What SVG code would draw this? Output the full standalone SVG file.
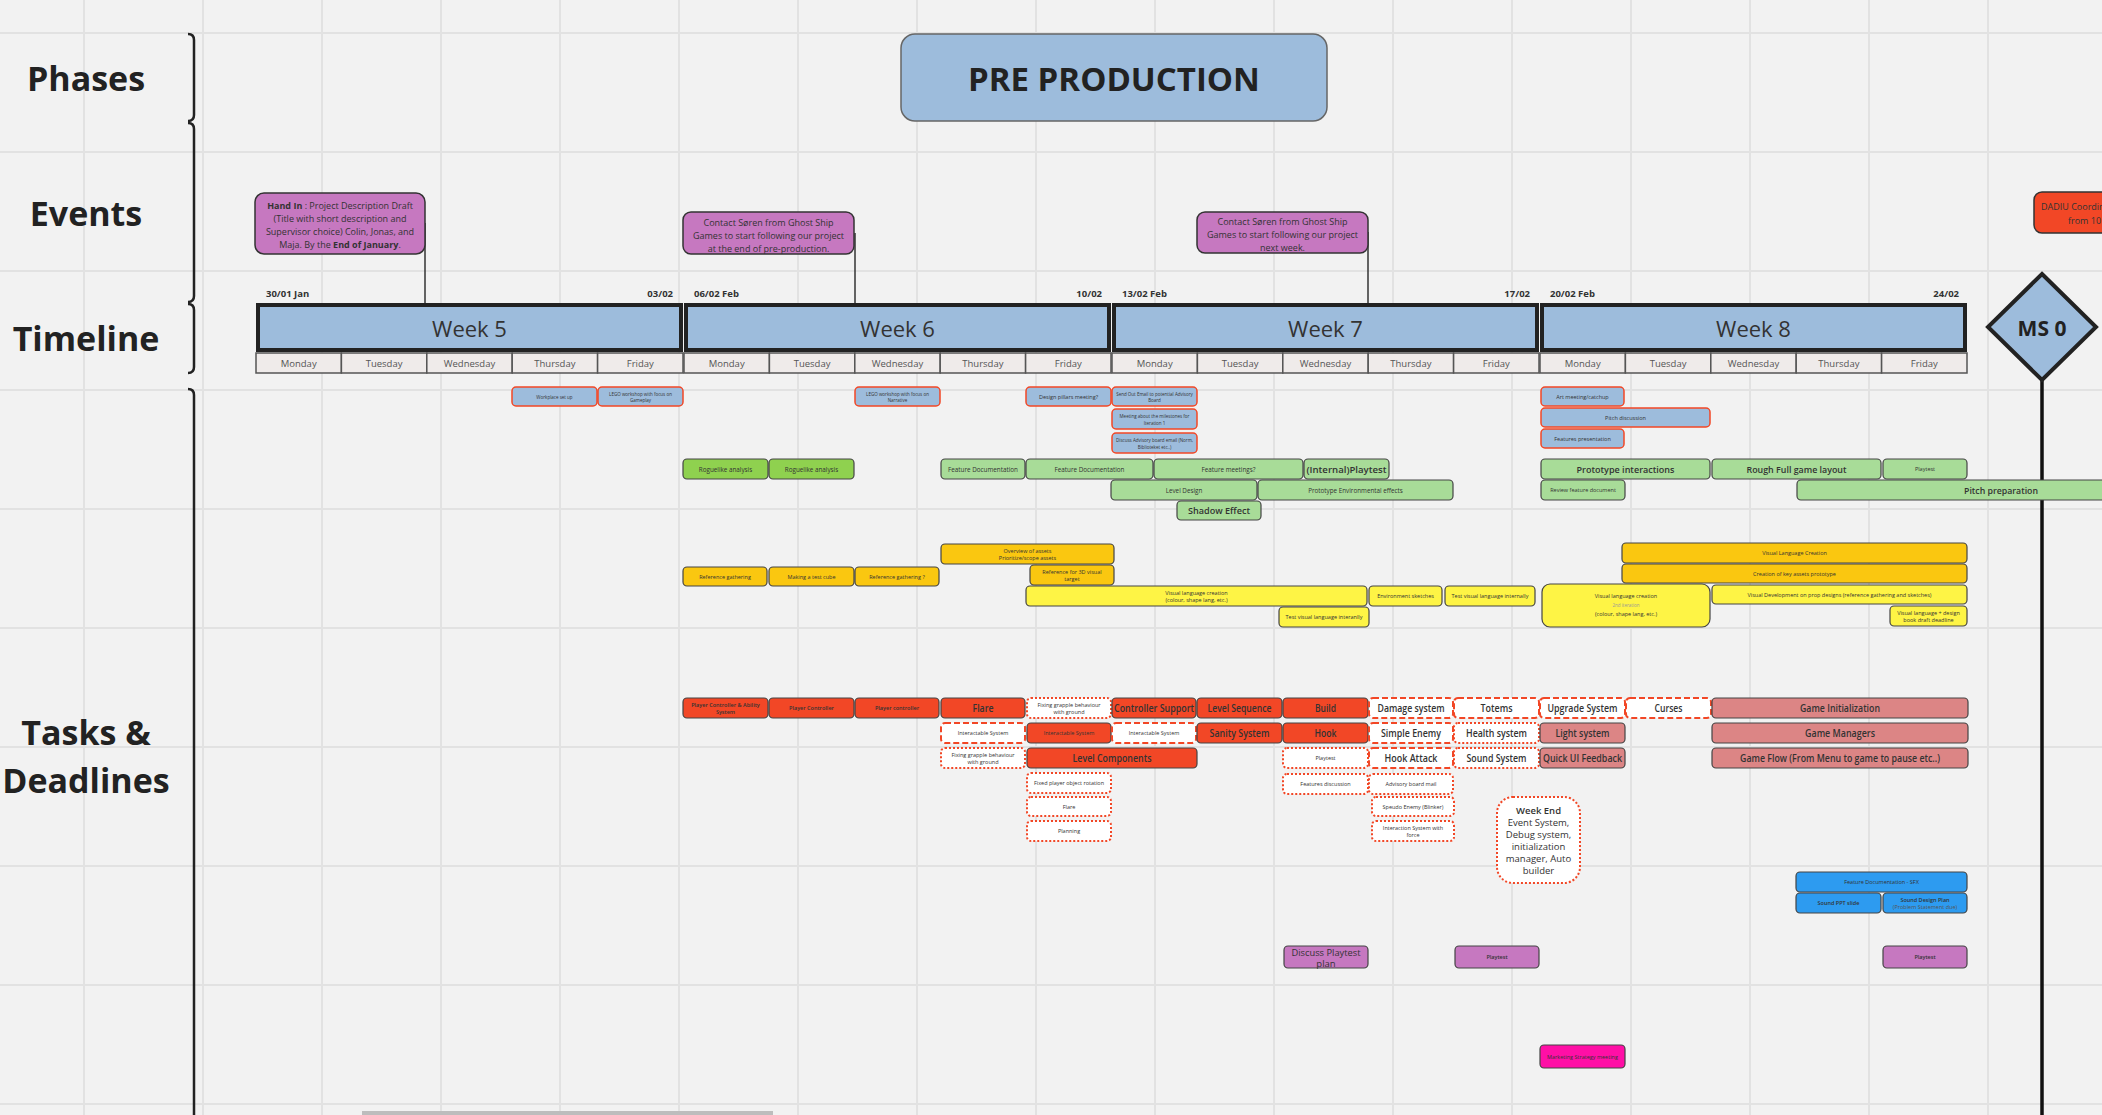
<svg xmlns="http://www.w3.org/2000/svg" width="2102" height="1115" viewBox="0 0 2102 1115">
<defs>
<pattern id="grid" x="202" y="32" width="119" height="119" patternUnits="userSpaceOnUse">
<path d="M0 1H119M1 0V119" stroke="#e2e2e2" stroke-width="2" fill="none"/>
</pattern>
</defs>
<style>
text{font-family:'Open Sans','Liberation Sans',sans-serif;fill:#333;text-anchor:middle;dominant-baseline:central}
.hd{font-size:34px;font-weight:700;fill:#222}
.wk{font-size:22px;fill:#333}
.dt{font-size:9.5px;font-weight:700;text-anchor:start}
.dy{font-size:9.5px;fill:#555}
.ev{font-size:9px}
.s4{font-size:4.5px}
.s5{font-size:5.5px}
.s6{font-size:6.3px}
.s9{font-size:9.5px;font-weight:600}
.L{font-size:10.5px;font-weight:600}
.we{font-size:9.5px}
.bx{stroke:#444;stroke-width:1.2}
.mt{fill:#9dbcdc;stroke:#f24726;stroke-width:1.5}
.gd{fill:#8fd14f}.gl{fill:#a8dc98}.yd{fill:#fac710}.yb{fill:#fef445}.rd{fill:#f24726}.pk{fill:#dc8585}.pu{fill:#c678c0}.bl{fill:#2d9bf0}.mg{fill:#ff0fa6}
.dash{fill:#fff;stroke:#f24726;stroke-width:2;stroke-dasharray:6 3}
.dot{fill:#fff;stroke:#f24726;stroke-width:2;stroke-dasharray:2 2}
.evb{fill:#c678c0;stroke:#333;stroke-width:1.5}
.wkb{fill:#9dbcdc;stroke:#222;stroke-width:4}
.day{fill:#efebea;stroke:#555;stroke-width:1.5}
.ax{fill:none;stroke:#222;stroke-width:2.5}
.cn{fill:none;stroke:#333;stroke-width:1.5}
</style>
<rect width="2102" height="1115" fill="#f2f2f2"/>
<rect width="2102" height="1115" fill="url(#grid)"/>

<g id="axis">
<path class="ax" d="M188 34Q194 34 194 40V115Q194 121 188 121"/>
<path class="ax" d="M188 123Q194 123 194 129V296Q194 302 188 302"/>
<path class="ax" d="M188 304Q194 304 194 310V367Q194 373 188 373"/>
<path class="ax" d="M188 389Q194 389 194 395V1115"/>
</g>

<g id="row-labels">
<text class="hd" x="86" y="78">Phases</text>
<text class="hd" x="86" y="213">Events</text>
<text class="hd" x="86" y="338">Timeline</text>
<text class="hd" x="86" y="732">Tasks &amp;</text>
<text class="hd" x="86" y="780">Deadlines</text>
</g>

<g id="phase-preproduction">
<rect x="901" y="34" width="426" height="87" rx="14" fill="#9dbcdc" stroke="#666" stroke-width="1.5"/>
<text x="1114" y="78" style="font-size:33px;font-weight:700;fill:#222">PRE PRODUCTION</text>
</g>

<g id="connectors">
<path class="cn" d="M425 223V304"/>
<path class="cn" d="M855 233V304"/>
<path class="cn" d="M1368 232V304"/>
<path d="M2042 380V1115" stroke="#111" stroke-width="3.5" fill="none"/>
</g>

<g id="event-handin">
<rect class="evb" x="255" y="193" width="170" height="61" rx="9"/>
<text class="ev" x="340" y="205"><tspan font-weight="700">Hand In</tspan> : Project Description Draft</text>
<text class="ev" x="340" y="218">(Title with short description and</text>
<text class="ev" x="340" y="231">Supervisor choice) Colin, Jonas, and</text>
<text class="ev" x="340" y="244">Maja. By the <tspan font-weight="700">End of January</tspan>.</text>
</g>
<g id="event-soren1">
<rect class="evb" x="683" y="212" width="171" height="42" rx="8"/>
<text class="ev" x="768.5" y="222">Contact Søren from Ghost Ship</text>
<text class="ev" x="768.5" y="235">Games to start following our project</text>
<text class="ev" x="768.5" y="248">at the end of pre-production.</text>
</g>
<g id="event-soren2">
<rect class="evb" x="1197" y="212" width="171" height="41" rx="8"/>
<text class="ev" x="1282.5" y="221">Contact Søren from Ghost Ship</text>
<text class="ev" x="1282.5" y="234">Games to start following our project</text>
<text class="ev" x="1282.5" y="247">next week.</text>
</g>
<g id="event-dadiu">
<rect x="2034" y="192" width="200" height="41" rx="8" fill="#f24726" stroke="#333" stroke-width="1.5"/>
<text class="ev" x="2041" y="206" style="text-anchor:start">DADIU Coordination</text>
<text class="ev" x="2068" y="220" style="text-anchor:start">from 10</text>
</g>

<g id="dates">
<text class="dt" x="266" y="293">30/01 Jan</text>
<text class="dt" x="673" y="293" style="text-anchor:end">03/02</text>
<text class="dt" x="694" y="293">06/02 Feb</text>
<text class="dt" x="1102" y="293" style="text-anchor:end">10/02</text>
<text class="dt" x="1122" y="293">13/02 Feb</text>
<text class="dt" x="1530" y="293" style="text-anchor:end">17/02</text>
<text class="dt" x="1550" y="293">20/02 Feb</text>
<text class="dt" x="1959" y="293" style="text-anchor:end">24/02</text>
</g>

<g id="week5">
<rect class="wkb" x="258" y="305" width="423" height="45"/>
<text class="wk" x="469.5" y="328">Week 5</text>
<rect class="day" x="256" y="353" width="85.4" height="20"/><text class="dy" x="298.7" y="363">Monday</text>
<rect class="day" x="341.4" y="353" width="85.4" height="20"/><text class="dy" x="384.1" y="363">Tuesday</text>
<rect class="day" x="426.8" y="353" width="85.4" height="20"/><text class="dy" x="469.5" y="363">Wednesday</text>
<rect class="day" x="512.2" y="353" width="85.4" height="20"/><text class="dy" x="554.9" y="363">Thursday</text>
<rect class="day" x="597.6" y="353" width="85.4" height="20"/><text class="dy" x="640.3" y="363">Friday</text>
</g>
<g id="week6">
<rect class="wkb" x="686" y="305" width="423" height="45"/>
<text class="wk" x="897.5" y="328">Week 6</text>
<rect class="day" x="684" y="353" width="85.4" height="20"/><text class="dy" x="726.7" y="363">Monday</text>
<rect class="day" x="769.4" y="353" width="85.4" height="20"/><text class="dy" x="812.1" y="363">Tuesday</text>
<rect class="day" x="854.8" y="353" width="85.4" height="20"/><text class="dy" x="897.5" y="363">Wednesday</text>
<rect class="day" x="940.2" y="353" width="85.4" height="20"/><text class="dy" x="982.9" y="363">Thursday</text>
<rect class="day" x="1025.6" y="353" width="85.4" height="20"/><text class="dy" x="1068.3" y="363">Friday</text>
</g>
<g id="week7">
<rect class="wkb" x="1114" y="305" width="423" height="45"/>
<text class="wk" x="1325.5" y="328">Week 7</text>
<rect class="day" x="1112" y="353" width="85.4" height="20"/><text class="dy" x="1154.7" y="363">Monday</text>
<rect class="day" x="1197.4" y="353" width="85.4" height="20"/><text class="dy" x="1240.1" y="363">Tuesday</text>
<rect class="day" x="1282.8" y="353" width="85.4" height="20"/><text class="dy" x="1325.5" y="363">Wednesday</text>
<rect class="day" x="1368.2" y="353" width="85.4" height="20"/><text class="dy" x="1410.9" y="363">Thursday</text>
<rect class="day" x="1453.6" y="353" width="85.4" height="20"/><text class="dy" x="1496.3" y="363">Friday</text>
</g>
<g id="week8">
<rect class="wkb" x="1542" y="305" width="423" height="45"/>
<text class="wk" x="1753.5" y="328">Week 8</text>
<rect class="day" x="1540" y="353" width="85.4" height="20"/><text class="dy" x="1582.7" y="363">Monday</text>
<rect class="day" x="1625.4" y="353" width="85.4" height="20"/><text class="dy" x="1668.1" y="363">Tuesday</text>
<rect class="day" x="1710.8" y="353" width="85.4" height="20"/><text class="dy" x="1753.5" y="363">Wednesday</text>
<rect class="day" x="1796.2" y="353" width="85.4" height="20"/><text class="dy" x="1838.9" y="363">Thursday</text>
<rect class="day" x="1881.6" y="353" width="85.4" height="20"/><text class="dy" x="1924.3" y="363">Friday</text>
</g>

<g id="ms0">
<path d="M2042 274L2096 327L2042 380L1988 327Z" fill="#9dbcdc" stroke="#222" stroke-width="4" stroke-linejoin="miter"/>
<text x="2042" y="328" style="font-size:21px;font-weight:700;fill:#222">MS 0</text>
</g>

<!-- meetings -->
<g id="t-workplace"><rect class="mt" x="512" y="387" width="85" height="19" rx="4"/><text class="s4" x="554.5" y="396.5">Workplace set up</text></g>
<g id="t-lego-gameplay"><rect class="mt" x="598" y="387" width="85" height="19" rx="4"/><text class="s4" x="640.5" y="393.5">LEGO workshop with focus on</text><text class="s4" x="640.5" y="400">Gameplay</text></g>
<g id="t-lego-narrative"><rect class="mt" x="855" y="387" width="85" height="19" rx="4"/><text class="s4" x="897.5" y="393.5">LEGO workshop with focus on</text><text class="s4" x="897.5" y="400">Narrative</text></g>
<g id="t-design-pillars"><rect class="mt" x="1026" y="387" width="85" height="19" rx="4"/><text class="s5" x="1068.5" y="396.5">Design pillars meeting?</text></g>
<g id="t-send-email"><rect class="mt" x="1112" y="387" width="85" height="19" rx="4"/><text class="s4" x="1154.5" y="393.5">Send Out Email to potential Advisory</text><text class="s4" x="1154.5" y="400">Board</text></g>
<g id="t-meeting-milestones"><rect class="mt" x="1112" y="409" width="85" height="20" rx="4"/><text class="s4" x="1154.5" y="415.5">Meeting about the milestones for</text><text class="s4" x="1154.5" y="422.5">Iteration 1</text></g>
<g id="t-discuss-advisory"><rect class="mt" x="1112" y="433" width="85" height="20" rx="4"/><text class="s4" x="1154.5" y="439.5">Discuss Advisory board email (Norm,</text><text class="s4" x="1154.5" y="446.5">Biblioteket etc..)</text></g>
<g id="t-art-meeting"><rect class="mt" x="1541" y="387" width="83" height="19" rx="4"/><text class="s5" x="1582.5" y="396.5">Art meeting/catchup</text></g>
<g id="t-pitch-discussion"><rect class="mt" x="1541" y="408" width="169" height="19" rx="4"/><text class="s5" x="1625.5" y="417.5">Pitch discussion</text></g>
<g id="t-features-presentation"><rect class="mt" x="1541" y="429" width="83" height="19" rx="4"/><text class="s5" x="1582.5" y="438.5">Features presentation</text></g>

<!-- green -->
<g id="t-roguelike1"><rect class="bx gd" x="683" y="459" width="85" height="20" rx="4"/><text class="s6" x="725.5" y="469">Roguelike analysis</text></g>
<g id="t-roguelike2"><rect class="bx gd" x="769" y="459" width="85" height="20" rx="4"/><text class="s6" x="811.5" y="469">Roguelike analysis</text></g>
<g id="t-featdoc1"><rect class="bx gl" x="941" y="459" width="84" height="20" rx="4"/><text class="s6" x="983" y="469">Feature Documentation</text></g>
<g id="t-featdoc2"><rect class="bx gl" x="1026" y="459" width="127" height="20" rx="4"/><text class="s6" x="1089.5" y="469">Feature Documentation</text></g>
<g id="t-featmeet"><rect class="bx gl" x="1154" y="459" width="149" height="20" rx="4"/><text class="s6" x="1228.5" y="469">Feature meetings?</text></g>
<g id="t-internal-playtest"><rect class="bx gl" x="1304" y="459" width="85" height="20" rx="4"/><text class="s9" x="1346.5" y="469" textLength="80" lengthAdjust="spacingAndGlyphs">(Internal)Playtest</text></g>
<g id="t-level-design"><rect class="bx gl" x="1111" y="480" width="146" height="20" rx="4"/><text class="s6" x="1184" y="490">Level Design</text></g>
<g id="t-proto-env"><rect class="bx gl" x="1258" y="480" width="195" height="20" rx="4"/><text class="s6" x="1355.5" y="490">Prototype Environmental effects</text></g>
<g id="t-shadow"><rect class="bx gl" x="1177" y="501" width="84" height="19" rx="4"/><text class="s9" x="1219" y="510.5" textLength="62" lengthAdjust="spacingAndGlyphs">Shadow Effect</text></g>
<g id="t-proto-interactions"><rect class="bx gl" x="1541" y="459" width="169" height="20" rx="4"/><text class="s9" x="1625.5" y="469" textLength="98" lengthAdjust="spacingAndGlyphs">Prototype interactions</text></g>
<g id="t-rough-layout"><rect class="bx gl" x="1712" y="459" width="169" height="20" rx="4"/><text class="s9" x="1796.5" y="469" textLength="100" lengthAdjust="spacingAndGlyphs">Rough Full game layout</text></g>
<g id="t-playtest-green"><rect class="bx gl" x="1883" y="459" width="84" height="20" rx="4"/><text class="s5" x="1925" y="469">Playtest</text></g>
<g id="t-review-feature"><rect class="bx gl" x="1541" y="480" width="84" height="20" rx="4"/><text class="s5" x="1583" y="490">Review feature document</text></g>
<g id="t-pitch-prep"><rect class="bx gl" x="1797" y="480" width="410" height="20" rx="4"/><text class="s9" x="2001" y="490" textLength="74" lengthAdjust="spacingAndGlyphs">Pitch preparation</text></g>

<!-- yellow -->
<g id="t-overview"><rect class="bx yd" x="941" y="544" width="173" height="20" rx="4"/><text class="s5" x="1027.5" y="550.5">Overview of assets</text><text class="s5" x="1027.5" y="557.5">Prioritize/scope assets</text></g>
<g id="t-ref3d"><rect class="bx yd" x="1030" y="565" width="84" height="20" rx="4"/><text class="s5" x="1072" y="571.5">Reference for 3D visual</text><text class="s5" x="1072" y="578.5">target</text></g>
<g id="t-refgather1"><rect class="bx yd" x="683" y="567" width="84" height="19" rx="4"/><text class="s5" x="725" y="576.5">Reference gathering</text></g>
<g id="t-testcube"><rect class="bx yd" x="769" y="567" width="85" height="19" rx="4"/><text class="s5" x="811.5" y="576.5">Making a test cube</text></g>
<g id="t-refgather2"><rect class="bx yd" x="855" y="567" width="84" height="19" rx="4"/><text class="s5" x="897" y="576.5">Reference gathering ?</text></g>
<g id="t-vislang1"><rect class="bx yb" x="1026" y="586" width="341" height="20" rx="4"/><text class="s5" x="1196.5" y="592.5">Visual language creation</text><text class="s5" x="1196.5" y="599.5">(colour, shape lang, etc.)</text></g>
<g id="t-testvis-interanlly"><rect class="bx yb" x="1279" y="607" width="90" height="20" rx="4"/><text class="s5" x="1324" y="617">Test visual language interanlly</text></g>
<g id="t-env-sketches"><rect class="bx yb" x="1369" y="586" width="73" height="20" rx="4"/><text class="s5" x="1405.5" y="596">Environment sketches</text></g>
<g id="t-testvis-internally"><rect class="bx yb" x="1445" y="586" width="90" height="20" rx="4"/><text class="s5" x="1490" y="596">Test visual language internally</text></g>
<g id="t-vislang2"><rect class="bx yb" x="1542" y="584" width="168" height="43" rx="8"/><text class="s5" x="1626" y="596">Visual language creation</text><text class="s4" x="1626" y="605" style="fill:#999">2nd iteration</text><text class="s5" x="1626" y="614">(colour, shape lang, etc.)</text></g>
<g id="t-vislang-creation"><rect class="bx yd" x="1622" y="543" width="345" height="20" rx="4"/><text class="s5" x="1794.5" y="553">Visual Language Creation</text></g>
<g id="t-key-assets"><rect class="bx yd" x="1622" y="564" width="345" height="19" rx="4"/><text class="s5" x="1794.5" y="573.5">Creation of key assets prototype</text></g>
<g id="t-visdev"><rect class="bx yb" x="1712" y="585" width="255" height="19" rx="4"/><text class="s5" x="1839.5" y="594.5">Visual Development on prop designs (reference gathering and sketches)</text></g>
<g id="t-vislang-deadline"><rect class="bx yb" x="1890" y="606" width="77" height="20" rx="4"/><text class="s5" x="1928.5" y="612.5">Visual language + design</text><text class="s5" x="1928.5" y="619.5">book draft deadline</text></g>

<!-- programming row 1 -->
<g id="t-pc-ability"><rect class="bx rd" x="683" y="698" width="85" height="20" rx="4"/><text class="s5" x="725.5" y="704.5" font-weight="600">Player Controller &amp; Ability</text><text class="s5" x="725.5" y="711.5" font-weight="600">System</text></g>
<g id="t-pc1"><rect class="bx rd" x="769" y="698" width="85" height="20" rx="4"/><text class="s5" x="811.5" y="708" font-weight="600">Player Controller</text></g>
<g id="t-pc2"><rect class="bx rd" x="855" y="698" width="84" height="20" rx="4"/><text class="s5" x="897" y="708" font-weight="600">Player controller</text></g>
<g id="t-flare"><rect class="bx rd" x="941" y="698" width="84" height="20" rx="4"/><text class="L" x="983" y="708" textLength="21" lengthAdjust="spacingAndGlyphs">Flare</text></g>
<g id="t-fixgrapple1"><rect class="dot" x="1027" y="698" width="84" height="20" rx="4"/><text class="s5" x="1069" y="704.5">Fixing grapple behaviour</text><text class="s5" x="1069" y="711.5">with ground</text></g>
<g id="t-controller-support"><rect class="bx rd" x="1112" y="698" width="84" height="20" rx="4"/><text class="L" x="1154" y="708" textLength="80" lengthAdjust="spacingAndGlyphs">Controller Support</text></g>
<g id="t-level-sequence"><rect class="bx rd" x="1197" y="698" width="85" height="20" rx="4"/><text class="L" x="1239.5" y="708" textLength="64" lengthAdjust="spacingAndGlyphs">Level Sequence</text></g>
<g id="t-build"><rect class="bx rd" x="1283" y="698" width="85" height="20" rx="4"/><text class="L" x="1325.5" y="708" textLength="21" lengthAdjust="spacingAndGlyphs">Build</text></g>
<g id="t-damage"><rect class="dash" x="1369" y="698" width="84" height="20" rx="4"/><text class="L" x="1411" y="708" textLength="67" lengthAdjust="spacingAndGlyphs">Damage system</text></g>
<g id="t-totems"><rect class="dash" x="1454" y="698" width="85" height="20" rx="4"/><text class="L" x="1496.5" y="708" textLength="32" lengthAdjust="spacingAndGlyphs">Totems</text></g>
<g id="t-upgrade"><rect class="dash" x="1540" y="698" width="85" height="20" rx="4"/><text class="L" x="1582.5" y="708" textLength="70" lengthAdjust="spacingAndGlyphs">Upgrade System</text></g>
<g id="t-curses"><rect class="dash" x="1626" y="698" width="85" height="20" rx="4"/><text class="L" x="1668.5" y="708" textLength="28" lengthAdjust="spacingAndGlyphs">Curses</text></g>
<g id="t-game-init"><rect class="bx pk" x="1712" y="698" width="256" height="20" rx="4"/><text class="L" x="1840" y="708" textLength="80" lengthAdjust="spacingAndGlyphs">Game Initialization</text></g>

<!-- row 2 -->
<g id="t-interact1"><rect class="dash" x="941" y="723" width="84" height="20" rx="4"/><text class="s5" x="983" y="733">Interactable System</text></g>
<g id="t-interact2"><rect class="bx rd" x="1027" y="723" width="84" height="20" rx="4"/><text class="s5" x="1069" y="733">Interactable System</text></g>
<g id="t-interact3"><rect class="dash" x="1112" y="723" width="84" height="20" rx="4"/><text class="s5" x="1154" y="733">Interactable System</text></g>
<g id="t-sanity"><rect class="bx rd" x="1197" y="723" width="85" height="20" rx="4"/><text class="L" x="1239.5" y="733" textLength="60" lengthAdjust="spacingAndGlyphs">Sanity System</text></g>
<g id="t-hook"><rect class="bx rd" x="1283" y="723" width="85" height="20" rx="4"/><text class="L" x="1325.5" y="733" textLength="22" lengthAdjust="spacingAndGlyphs">Hook</text></g>
<g id="t-simple-enemy"><rect class="dash" x="1369" y="723" width="84" height="20" rx="4"/><text class="L" x="1411" y="733" textLength="60" lengthAdjust="spacingAndGlyphs">Simple Enemy</text></g>
<g id="t-health"><rect class="dot" x="1454" y="723" width="85" height="20" rx="4"/><text class="L" x="1496.5" y="733" textLength="61" lengthAdjust="spacingAndGlyphs">Health system</text></g>
<g id="t-light"><rect class="bx pk" x="1540" y="723" width="85" height="20" rx="4"/><text class="L" x="1582.5" y="733" textLength="54" lengthAdjust="spacingAndGlyphs">Light system</text></g>
<g id="t-game-managers"><rect class="bx pk" x="1712" y="723" width="256" height="20" rx="4"/><text class="L" x="1840" y="733" textLength="70" lengthAdjust="spacingAndGlyphs">Game Managers</text></g>

<!-- row 3 -->
<g id="t-fixgrapple2"><rect class="dot" x="941" y="748" width="84" height="20" rx="4"/><text class="s5" x="983" y="754.5">Fixing grapple behaviour</text><text class="s5" x="983" y="761.5">with ground</text></g>
<g id="t-level-components"><rect class="bx rd" x="1027" y="748" width="170" height="20" rx="4"/><text class="L" x="1112" y="758" textLength="79" lengthAdjust="spacingAndGlyphs">Level Components</text></g>
<g id="t-playtest-red"><rect class="dot" x="1283" y="748" width="85" height="20" rx="4"/><text class="s5" x="1325.5" y="758">Playtest</text></g>
<g id="t-hook-attack"><rect class="dash" x="1369" y="748" width="84" height="20" rx="4"/><text class="L" x="1411" y="758" textLength="53" lengthAdjust="spacingAndGlyphs">Hook Attack</text></g>
<g id="t-sound-system"><rect class="dot" x="1454" y="748" width="85" height="20" rx="4"/><text class="L" x="1496.5" y="758" textLength="60" lengthAdjust="spacingAndGlyphs">Sound System</text></g>
<g id="t-quick-ui"><rect class="bx pk" x="1540" y="748" width="85" height="20" rx="4"/><text class="L" x="1582.5" y="758" textLength="79" lengthAdjust="spacingAndGlyphs">Quick UI Feedback</text></g>
<g id="t-game-flow"><rect class="bx pk" x="1712" y="748" width="256" height="20" rx="4"/><text class="L" x="1840" y="758" textLength="200" lengthAdjust="spacingAndGlyphs">Game Flow (From Menu to game to pause etc..)</text></g>

<!-- rows 4-6 -->
<g id="t-fixed-rotation"><rect class="dot" x="1027" y="773" width="84" height="20" rx="4"/><text class="s5" x="1069" y="783">Fixed player object rotation</text></g>
<g id="t-features-discussion"><rect class="dot" x="1283" y="774" width="85" height="20" rx="4"/><text class="s5" x="1325.5" y="784">Features discussion</text></g>
<g id="t-advisory-mail"><rect class="dot" x="1369" y="774" width="84" height="20" rx="4"/><text class="s5" x="1411" y="784">Advisory board mail</text></g>
<g id="t-flare2"><rect class="dot" x="1027" y="797" width="84" height="19" rx="4"/><text class="s5" x="1069" y="806.5">Flare</text></g>
<g id="t-speudo"><rect class="dot" x="1372" y="797" width="82" height="19" rx="4"/><text class="s5" x="1413" y="806.5">Speudo Enemy (Blinker)</text></g>
<g id="t-planning"><rect class="dot" x="1027" y="821" width="84" height="20" rx="4"/><text class="s5" x="1069" y="831">Planning</text></g>
<g id="t-interaction-force"><rect class="dot" x="1372" y="821" width="82" height="20" rx="4"/><text class="s5" x="1413" y="827.5">Interaction System with</text><text class="s5" x="1413" y="834.5">force</text></g>

<g id="t-week-end"><rect class="dot" x="1497" y="797" width="83" height="86" rx="16"/>
<text class="we" x="1538.5" y="810" font-weight="600">Week End</text>
<text class="we" x="1538.5" y="822">Event System,</text>
<text class="we" x="1538.5" y="834">Debug system,</text>
<text class="we" x="1538.5" y="846">initialization</text>
<text class="we" x="1538.5" y="858">manager, Auto</text>
<text class="we" x="1538.5" y="870">builder</text>
</g>

<!-- sound -->
<g id="t-sfx"><rect class="bx bl" x="1796" y="872" width="171" height="20" rx="4"/><text class="s5" x="1881.5" y="882">Feature Documentation - SFX</text></g>
<g id="t-sound-ppt"><rect class="bx bl" x="1796" y="893" width="85" height="20" rx="4"/><text class="s5" x="1838.5" y="903" font-weight="600">Sound PPT slide</text></g>
<g id="t-sound-design"><rect class="bx bl" x="1883" y="893" width="84" height="20" rx="4"/><text class="s5" x="1925" y="899.5" font-weight="600">Sound Design Plan</text><text class="s5" x="1925" y="906.5" style="fill:#555">(Problem Statement due)</text></g>

<!-- playtests -->
<g id="t-discuss-playtest"><rect class="bx pu" x="1284" y="946" width="84" height="22" rx="4"/><text class="s9" x="1326" y="952" textLength="69" lengthAdjust="spacingAndGlyphs" style="font-weight:400">Discuss Playtest</text><text class="s9" x="1326" y="963" style="font-weight:400">plan</text></g>
<g id="t-playtest1"><rect class="bx pu" x="1455" y="946" width="84" height="22" rx="4"/><text class="s5" x="1497" y="957" font-weight="600">Playtest</text></g>
<g id="t-playtest2"><rect class="bx pu" x="1883" y="946" width="84" height="22" rx="4"/><text class="s5" x="1925" y="957" font-weight="600">Playtest</text></g>

<g id="t-marketing"><rect class="bx mg" x="1540" y="1045" width="85" height="23" rx="4"/><text class="s5" x="1582.5" y="1056.5">Marketing Strategy meeting</text></g>

<rect x="362" y="1111" width="411" height="4" fill="#bdbdbd"/>
</svg>
